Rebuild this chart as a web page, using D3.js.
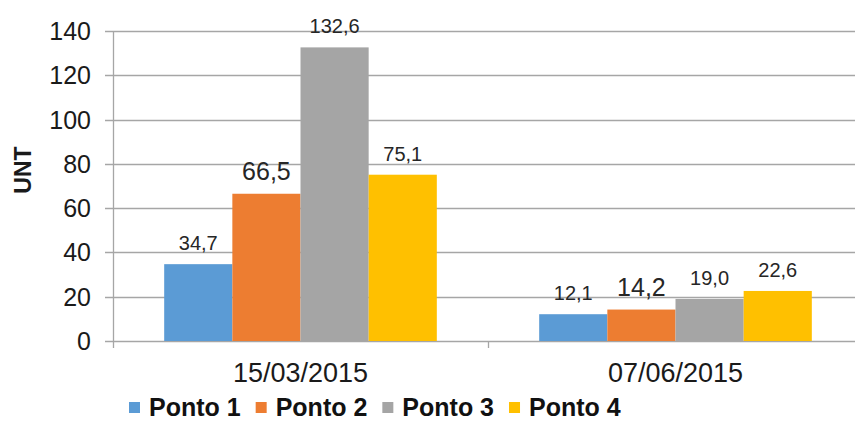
<!DOCTYPE html>
<html>
<head>
<meta charset="utf-8">
<script src="https://cdn.jsdelivr.net/npm/d3@7/dist/d3.min.js"></script>
<style>
  body { margin: 0; background: #fff; }
  text { font-family: "Liberation Sans", Arial, sans-serif; }
</style>
</head>
<body>
<div id="chart"></div>
<script>
// Chart data
const dates = ["15/03/2015", "07/06/2015"];
const series = ["Ponto 1", "Ponto 2", "Ponto 3", "Ponto 4"];
const ponto1 = [34.7, 12.1];
const ponto2 = [66.5, 14.2];
const ponto3 = [132.6, 19.0];
const ponto4 = [75.1, 22.6];
const yTicks = [0, 20, 40, 60, 80, 100, 120, 140];
const colors = ["#5b9bd5", "#ed7d31", "#a5a5a5", "#ffc000"];

(() => {
    const width = 855;
    const height = 422;
    const margin = { top: 31, right: -8, bottom: 81, left: 113 };
    const innerWidth = width - margin.left - margin.right;
    const innerHeight = height - margin.top - margin.bottom;

    const values = [ponto1, ponto2, ponto3, ponto4];
    const data = dates.map((d, i) => ({
        date: d,
        points: series.map((s, j) => ({ serie: s, value: values[j][i] }))
    }));

    const svg = d3.select("#chart")
        .append("svg")
        .attr("width", width)
        .attr("height", height);

    const g = svg.append("g")
        .attr("transform", `translate(${margin.left}, ${margin.top})`);

    const x = d3.scaleBand()
        .domain(dates)
        .range([0, innerWidth])
        .paddingInner(0)
        .paddingOuter(0);

    const groupWidth = x.bandwidth() * 0.727;
    const xs = d3.scaleBand()
        .domain(series)
        .range([(x.bandwidth() - groupWidth) / 2, (x.bandwidth() + groupWidth) / 2]);

    const y = d3.scaleLinear()
        .domain([0, 140])
        .range([innerHeight, 0]);

    const color = d3.scaleOrdinal().domain(series).range(colors);

    // Gridlines
    g.append("g")
        .selectAll("line")
        .data(yTicks)
        .enter()
        .append("line")
        .attr("x1", -8)
        .attr("x2", innerWidth)
        .attr("y1", d => Math.round(y(d)) + 0.5)
        .attr("y2", d => Math.round(y(d)) + 0.5)
        .attr("stroke", "#a6a6a6")
        .attr("stroke-width", 1.3);

    // Y axis line
    g.append("line")
        .attr("x1", 0.5).attr("x2", 0.5)
        .attr("y1", 0).attr("y2", innerHeight + 7)
        .attr("stroke", "#a6a6a6")
        .attr("stroke-width", 1.3);

    // Category separator ticks
    g.append("g")
        .selectAll("line")
        .data(dates.slice(1))
        .enter()
        .append("line")
        .attr("x1", d => x(d) + 0.5)
        .attr("x2", d => x(d) + 0.5)
        .attr("y1", innerHeight)
        .attr("y2", innerHeight + 7)
        .attr("stroke", "#a6a6a6")
        .attr("stroke-width", 1.3);

    // Y tick labels
    g.append("g")
        .selectAll("text")
        .data(yTicks)
        .enter()
        .append("text")
        .text(d => d)
        .attr("x", -22)
        .attr("y", d => y(d))
        .attr("dy", "0.36em")
        .style("text-anchor", "end")
        .style("font-size", "25px")
        .attr("fill", "#1a1a1a");

    // Y axis label
    g.append("text")
        .text("UNT")
        .attr("transform", `translate(${-82}, ${innerHeight / 2 - 16}) rotate(-90)`)
        .style("text-anchor", "middle")
        .style("font-size", "23px")
        .style("font-weight", "bold")
        .attr("fill", "#1a1a1a");

    // Bars
    const groups = g.selectAll(".group")
        .data(data)
        .enter()
        .append("g")
        .attr("transform", d => `translate(${x(d.date)}, 0)`);

    groups.selectAll("rect")
        .data(d => d.points)
        .enter()
        .append("rect")
        .attr("x", d => xs(d.serie))
        .attr("y", d => y(d.value))
        .attr("width", xs.bandwidth())
        .attr("height", d => innerHeight - y(d.value))
        .attr("fill", d => color(d.serie));

    // Value labels (Ponto 2 labels are drawn larger in the original)
    groups.selectAll(".label")
        .data(d => d.points)
        .enter()
        .append("text")
        .text(d => d3.format(".1f")(d.value).replace(".", ","))
        .attr("x", d => xs(d.serie) + xs.bandwidth() / 2)
        .attr("y", d => y(d.value) - 14)
        .style("text-anchor", "middle")
        .style("font-size", d => d.serie === "Ponto 2" ? "25px" : "20px")
        .attr("fill", "#262626");

    // X labels
    g.append("g")
        .selectAll("text")
        .data(dates)
        .enter()
        .append("text")
        .text(d => d)
        .attr("x", d => x(d) + x.bandwidth() / 2)
        .attr("y", innerHeight + 41)
        .style("text-anchor", "middle")
        .style("font-size", "27px")
        .attr("fill", "#1a1a1a");

    // Legend
    const legend = svg.append("g").attr("transform", "translate(129, 402)");
    let lx = 0;
    series.forEach((s, i) => {
        const item = legend.append("g").attr("transform", `translate(${lx}, 0)`);
        item.append("rect")
            .attr("width", 11)
            .attr("height", 11)
            .attr("fill", colors[i]);
        const t = item.append("text")
            .text(s)
            .attr("x", 20)
            .attr("y", 14)
            .style("font-size", "25px")
            .style("font-weight", "bold")
            .attr("fill", "#111");
        lx += 20 + t.node().getComputedTextLength() + 15;
    });
})();
</script>
</body>
</html>
